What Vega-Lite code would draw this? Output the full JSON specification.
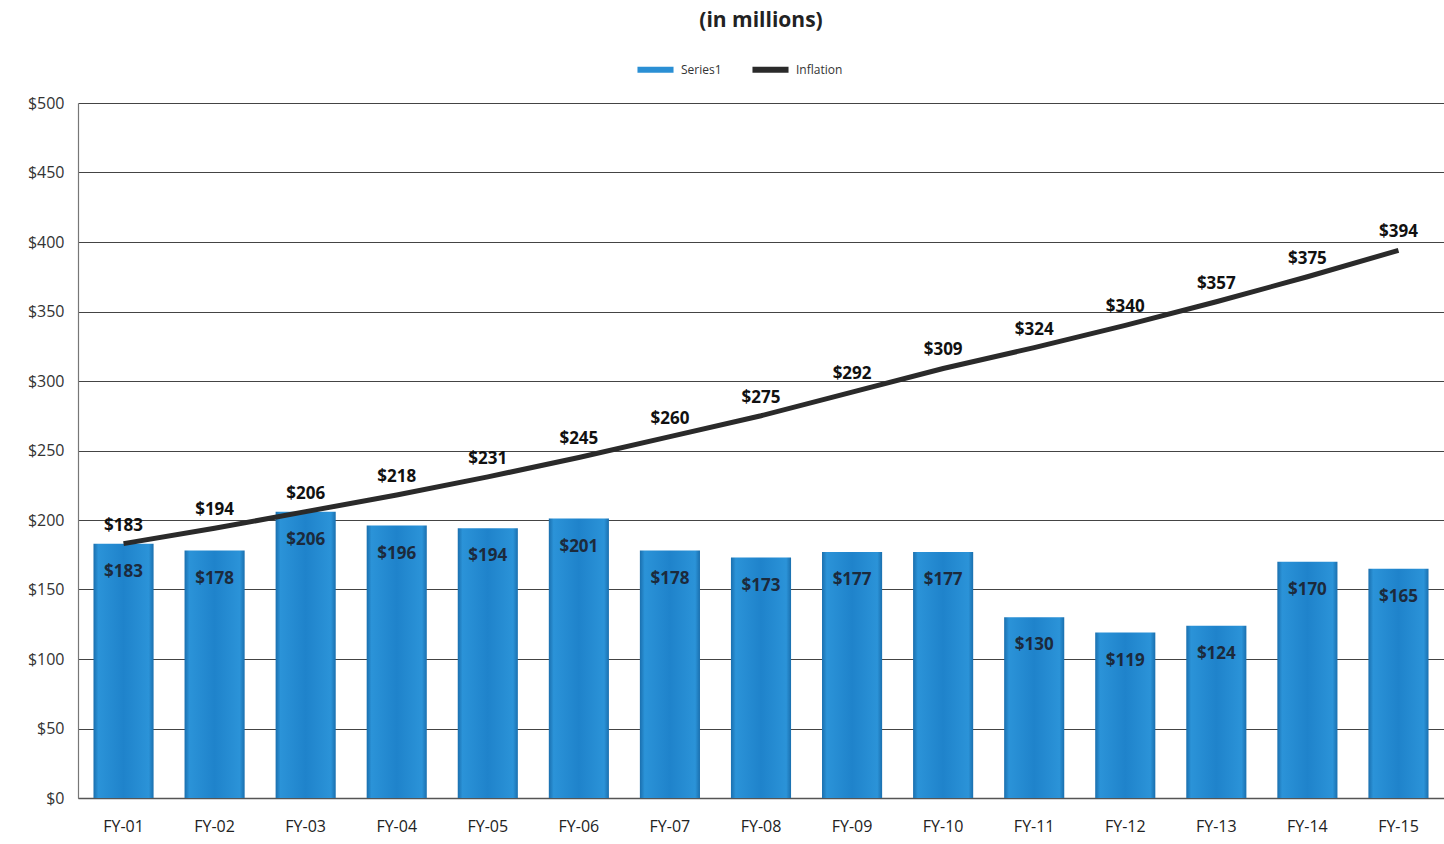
{
  "$schema": "https://vega.github.io/schema/vega-lite/v6.json",
  "autosize": {"type": "fit", "contains": "padding"},
  "width": 1444,
  "height": 844,
  "padding": {"left": 27, "right": 0, "top": 10, "bottom": 10},
  "background": "white",
  "title": {"text": "(in millions)", "fontSize": 21, "font": "Open Sans", "fontWeight": "bold", "color": "#222222", "anchor": "middle", "offset": 64},
  "config": {
    "view": {"stroke": null},
    "font": "Open Sans"
  },
  "data": {
    "values": [
      {"fy": "FY-01", "series1": 183, "inflation": 183},
      {"fy": "FY-02", "series1": 178, "inflation": 194},
      {"fy": "FY-03", "series1": 206, "inflation": 206},
      {"fy": "FY-04", "series1": 196, "inflation": 218},
      {"fy": "FY-05", "series1": 194, "inflation": 231},
      {"fy": "FY-06", "series1": 201, "inflation": 245},
      {"fy": "FY-07", "series1": 178, "inflation": 260},
      {"fy": "FY-08", "series1": 173, "inflation": 275},
      {"fy": "FY-09", "series1": 177, "inflation": 292},
      {"fy": "FY-10", "series1": 177, "inflation": 309},
      {"fy": "FY-11", "series1": 130, "inflation": 324},
      {"fy": "FY-12", "series1": 119, "inflation": 340},
      {"fy": "FY-13", "series1": 124, "inflation": 357},
      {"fy": "FY-14", "series1": 170, "inflation": 375},
      {"fy": "FY-15", "series1": 165, "inflation": 394}
    ]
  },
  "encoding": {
    "x": {
      "field": "fy", "type": "ordinal", "sort": null,
      "scale": {"paddingInner": 0.34, "paddingOuter": 0.17},
      "axis": {"title": null, "labelAngle": 0, "labelFontSize": 16, "labelColor": "#222222", "labelPadding": 20, "ticks": false, "domainColor": "#555555", "domainWidth": 1.5, "grid": false}
    }
  },
  "layer": [
    {
      "mark": {
        "type": "bar",
        "color": {"gradient": "linear", "x1": 0, "y1": 0, "x2": 1, "y2": 0, "stops": [
          {"offset": 0, "color": "#1a6fae"},
          {"offset": 0.08, "color": "#2b93d8"},
          {"offset": 0.5, "color": "#1f83cb"},
          {"offset": 0.92, "color": "#2b93d8"},
          {"offset": 1, "color": "#1a6fae"}
        ]}
      },
      "encoding": {
        "y": {
          "field": "series1", "type": "quantitative",
          "scale": {"domain": [0, 500]},
          "axis": {"title": null, "tickCount": 10, "labelExpr": "'$' + datum.value", "labelFontSize": 16, "labelColor": "#333333", "labelPadding": 14, "ticks": false, "domainColor": "#777777", "domainWidth": 1.2, "gridColor": "#444444", "gridWidth": 1}
        }
      }
    },
    {
      "mark": {"type": "text", "fontSize": 17, "fontWeight": "bold", "color": "#1c2a3c", "baseline": "middle", "dy": 28},
      "encoding": {
        "y": {"field": "series1", "type": "quantitative"},
        "text": {"field": "series1", "type": "quantitative", "format": "$,.0f"}
      }
    },
    {
      "mark": {"type": "line", "strokeWidth": 5, "strokeCap": "butt"},
      "encoding": {
        "y": {"field": "inflation", "type": "quantitative"},
        "color": {
          "datum": "Inflation", "type": "nominal",
          "scale": {"domain": ["Series1", "Inflation"], "range": ["#2a8fd4", "#2a2a2a"]},
          "legend": {
            "title": null, "orient": "none", "legendX": 556, "legendY": -55, "direction": "horizontal",
            "labelFontSize": 12, "labelColor": "#333333", "symbolType": "stroke",
            "symbolSize": 1300, "symbolStrokeWidth": 6, "columnPadding": 18,
            "encode": {"symbols": {"update": {"stroke": {"scale": "color", "field": "value"}, "strokeWidth": {"value": 6}}}}
          }
        }
      }
    },
    {
      "mark": {"type": "text", "fontSize": 17, "fontWeight": "bold", "color": "#111111", "baseline": "middle", "dy": -18},
      "encoding": {
        "y": {"field": "inflation", "type": "quantitative"},
        "text": {"field": "inflation", "type": "quantitative", "format": "$,.0f"}
      }
    }
  ]
}
